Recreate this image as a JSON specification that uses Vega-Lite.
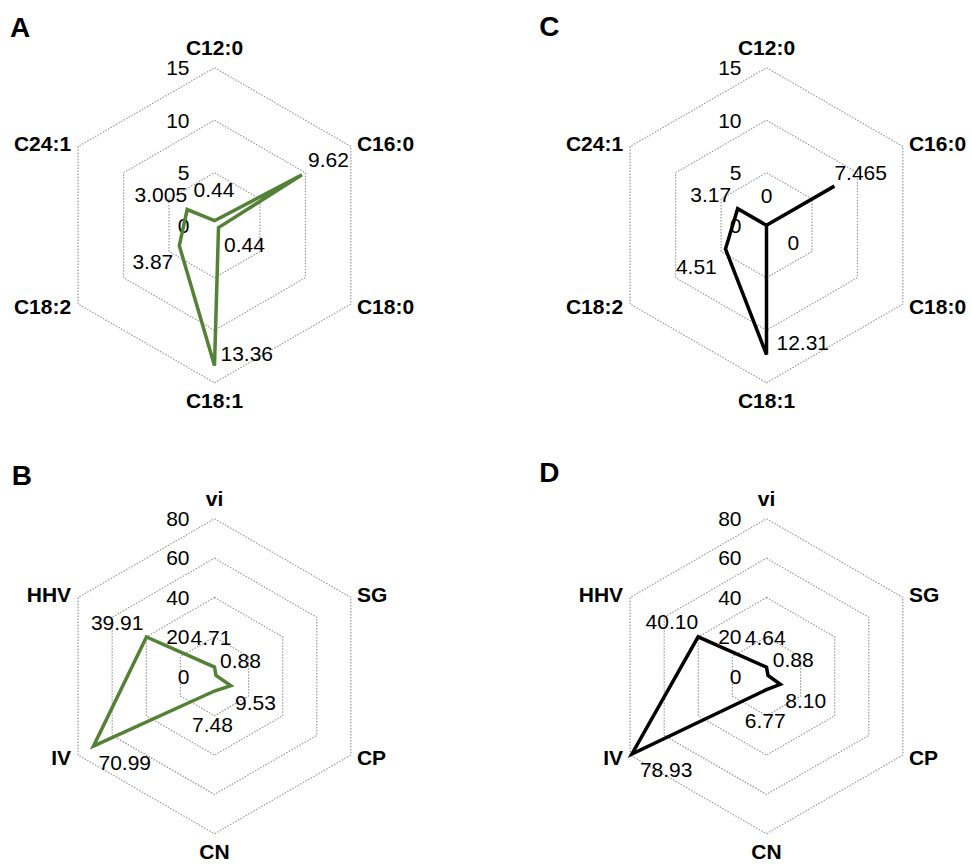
{
"$schema": "https://vega.github.io/schema/vega-lite/v6.json",
"padding": 0,
"background": "white",
"config": {"view": {"stroke": null}, "font": "Liberation Sans", "text": {"font": "Liberation Sans", "fontSize": 21, "color": "#000000"}},
"datasets": {
"fa": [
{"panel":"A","i":0,"cat":"C12:0","v":0.44,"lab":"0.44"},
{"panel":"A","i":1,"cat":"C16:0","v":9.62,"lab":"9.62"},
{"panel":"A","i":2,"cat":"C18:0","v":0.44,"lab":"0.44"},
{"panel":"A","i":3,"cat":"C18:1","v":13.36,"lab":"13.36"},
{"panel":"A","i":4,"cat":"C18:2","v":3.87,"lab":"3.87"},
{"panel":"A","i":5,"cat":"C24:1","v":3.005,"lab":"3.005"},
{"panel":"C","i":0,"cat":"C12:0","v":0,"lab":"0"},
{"panel":"C","i":1,"cat":"C16:0","v":7.465,"lab":"7.465"},
{"panel":"C","i":2,"cat":"C18:0","v":0,"lab":"0"},
{"panel":"C","i":3,"cat":"C18:1","v":12.31,"lab":"12.31"},
{"panel":"C","i":4,"cat":"C18:2","v":4.51,"lab":"4.51"},
{"panel":"C","i":5,"cat":"C24:1","v":3.17,"lab":"3.17"}
],
"fu": [
{"panel":"B","i":0,"cat":"vi","v":4.71,"lab":"4.71"},
{"panel":"B","i":1,"cat":"SG","v":0.88,"lab":"0.88"},
{"panel":"B","i":2,"cat":"CP","v":9.53,"lab":"9.53"},
{"panel":"B","i":3,"cat":"CN","v":7.48,"lab":"7.48"},
{"panel":"B","i":4,"cat":"IV","v":70.99,"lab":"70.99"},
{"panel":"B","i":5,"cat":"HHV","v":39.91,"lab":"39.91"},
{"panel":"D","i":0,"cat":"vi","v":4.64,"lab":"4.64"},
{"panel":"D","i":1,"cat":"SG","v":0.88,"lab":"0.88"},
{"panel":"D","i":2,"cat":"CP","v":8.10,"lab":"8.10"},
{"panel":"D","i":3,"cat":"CN","v":6.77,"lab":"6.77"},
{"panel":"D","i":4,"cat":"IV","v":78.93,"lab":"78.93"},
{"panel":"D","i":5,"cat":"HHV","v":40.10,"lab":"40.10"}
],
"gFA": [
{"lv":5,"i":0},{"lv":5,"i":1},{"lv":5,"i":2},{"lv":5,"i":3},{"lv":5,"i":4},{"lv":5,"i":5},
{"lv":10,"i":0},{"lv":10,"i":1},{"lv":10,"i":2},{"lv":10,"i":3},{"lv":10,"i":4},{"lv":10,"i":5},
{"lv":15,"i":0},{"lv":15,"i":1},{"lv":15,"i":2},{"lv":15,"i":3},{"lv":15,"i":4},{"lv":15,"i":5}
],
"gFU": [
{"lv":20,"i":0},{"lv":20,"i":1},{"lv":20,"i":2},{"lv":20,"i":3},{"lv":20,"i":4},{"lv":20,"i":5},
{"lv":40,"i":0},{"lv":40,"i":1},{"lv":40,"i":2},{"lv":40,"i":3},{"lv":40,"i":4},{"lv":40,"i":5},
{"lv":60,"i":0},{"lv":60,"i":1},{"lv":60,"i":2},{"lv":60,"i":3},{"lv":60,"i":4},{"lv":60,"i":5},
{"lv":80,"i":0},{"lv":80,"i":1},{"lv":80,"i":2},{"lv":80,"i":3},{"lv":80,"i":4},{"lv":80,"i":5}
],
"tFA": [{"t":0},{"t":5},{"t":10},{"t":15}],
"tFU": [{"t":0},{"t":20},{"t":40},{"t":60},{"t":80}]
},
"columns": 2,
"spacing": {"row": 41, "column": 142},
"bounds": "flush",
"concat": [
{
"width": 410, "height": 410,
"encoding": {
"x": {"field":"x","type":"quantitative","scale":{"domain":[-1.3619,1.2413],"nice":false,"zero":false},"axis":null},
"y": {"field":"y","type":"quantitative","scale":{"domain":[-1.1727,1.4305],"nice":false,"zero":false},"axis":null}
},
"layer": [
{"data":{"name":"gFA"},"transform":[{"calculate":"datum.lv/15*sin(datum.i*PI/3)","as":"x"},{"calculate":"datum.lv/15*cos(datum.i*PI/3)","as":"y"}],
"mark":{"type":"line","interpolate":"linear-closed","stroke":"#999999","strokeWidth":1.2,"strokeDash":[1.5,1.5]},
"encoding":{"detail":{"field":"lv"},"order":{"field":"i"}}},
{"data":{"name":"tFA"},"transform":[{"calculate":"0","as":"x"},{"calculate":"datum.t/15","as":"y"}],
"mark":{"type":"text","align":"right","baseline":"middle","dx":-25,"dy":1.2,"fontSize":21},
"encoding":{"text":{"field":"t","type":"nominal"}}},
{"data":{"name":"fa"},"transform":[{"filter":"datum.panel=='A'"},{"calculate":"datum.v/15*sin(datum.i*PI/3)","as":"x"},{"calculate":"datum.v/15*cos(datum.i*PI/3)","as":"y"}],
"layer":[
{"mark":{"type":"line","interpolate":"linear-closed","stroke":"#538135","strokeWidth":3.5},"encoding":{"order":{"field":"i"}}},
{"transform":[{"filter":"datum.i==5"},{"calculate":"sin(datum.i*PI/3)","as":"x"},{"calculate":"cos(datum.i*PI/3)","as":"y"}],"mark":{"type":"text","align":"left","baseline":"alphabetic","dx":-68.1,"dy":-110,"fontSize":28,"fontWeight":"bold"},"encoding":{"text":{"field":"panel"}}},
{"transform":[{"filter":"datum.i==0"},{"calculate":"sin(datum.i*PI/3)","as":"x"},{"calculate":"cos(datum.i*PI/3)","as":"y"}],"mark":{"type":"text","align":"center","baseline":"alphabetic","dy":-13,"fontSize":21,"fontWeight":"bold"},"encoding":{"text":{"field":"cat"}}},
{"transform":[{"filter":"datum.i==1"},{"calculate":"sin(datum.i*PI/3)","as":"x"},{"calculate":"cos(datum.i*PI/3)","as":"y"}],"mark":{"type":"text","align":"left","baseline":"middle","dx":6,"dy":-1.8,"fontSize":21,"fontWeight":"bold"},"encoding":{"text":{"field":"cat"}}},
{"transform":[{"filter":"datum.i==2"},{"calculate":"sin(datum.i*PI/3)","as":"x"},{"calculate":"cos(datum.i*PI/3)","as":"y"}],"mark":{"type":"text","align":"left","baseline":"middle","dx":6,"dy":4,"fontSize":21,"fontWeight":"bold"},"encoding":{"text":{"field":"cat"}}},
{"transform":[{"filter":"datum.i==3"},{"calculate":"sin(datum.i*PI/3)","as":"x"},{"calculate":"cos(datum.i*PI/3)","as":"y"}],"mark":{"type":"text","align":"center","baseline":"alphabetic","dy":25,"fontSize":21,"fontWeight":"bold"},"encoding":{"text":{"field":"cat"}}},
{"transform":[{"filter":"datum.i==4"},{"calculate":"sin(datum.i*PI/3)","as":"x"},{"calculate":"cos(datum.i*PI/3)","as":"y"}],"mark":{"type":"text","align":"right","baseline":"middle","dx":-7,"dy":4,"fontSize":21,"fontWeight":"bold"},"encoding":{"text":{"field":"cat"}}},
{"transform":[{"filter":"datum.i==5"},{"calculate":"sin(datum.i*PI/3)","as":"x"},{"calculate":"cos(datum.i*PI/3)","as":"y"}],"mark":{"type":"text","align":"right","baseline":"middle","dx":-7,"dy":-1.8,"fontSize":21,"fontWeight":"bold"},"encoding":{"text":{"field":"cat"}}},
{"transform":[{"filter":"datum.i==0"}],"mark":{"type":"text","align":"center","baseline":"middle","dx":-0.5,"dy":-29.5,"fontSize":21},"encoding":{"text":{"field":"lab"}}},
{"transform":[{"filter":"datum.i==1"}],"mark":{"type":"text","align":"left","baseline":"middle","dx":6,"dy":-13.4,"fontSize":21},"encoding":{"text":{"field":"lab"}}},
{"transform":[{"filter":"datum.i==2"}],"mark":{"type":"text","align":"left","baseline":"middle","dx":5.5,"dy":18.6,"fontSize":21},"encoding":{"text":{"field":"lab"}}},
{"transform":[{"filter":"datum.i==3"}],"mark":{"type":"text","align":"left","baseline":"middle","dx":6,"dy":-11,"fontSize":21},"encoding":{"text":{"field":"lab"}}},
{"transform":[{"filter":"datum.i==4"}],"mark":{"type":"text","align":"right","baseline":"middle","dx":-6,"dy":17.5,"fontSize":21},"encoding":{"text":{"field":"lab"}}},
{"transform":[{"filter":"datum.i==5"}],"mark":{"type":"text","align":"right","baseline":"middle","dx":0,"dy":-13.3,"fontSize":21},"encoding":{"text":{"field":"lab"}}}
]}
]
},
{
"width": 410, "height": 410,
"encoding": {
"x": {"field":"x","type":"quantitative","scale":{"domain":[-1.3619,1.2413],"nice":false,"zero":false},"axis":null},
"y": {"field":"y","type":"quantitative","scale":{"domain":[-1.1727,1.4305],"nice":false,"zero":false},"axis":null}
},
"layer": [
{"data":{"name":"gFA"},"transform":[{"calculate":"datum.lv/15*sin(datum.i*PI/3)","as":"x"},{"calculate":"datum.lv/15*cos(datum.i*PI/3)","as":"y"}],
"mark":{"type":"line","interpolate":"linear-closed","stroke":"#999999","strokeWidth":1.2,"strokeDash":[1.5,1.5]},
"encoding":{"detail":{"field":"lv"},"order":{"field":"i"}}},
{"data":{"name":"tFA"},"transform":[{"calculate":"0","as":"x"},{"calculate":"datum.t/15","as":"y"}],
"mark":{"type":"text","align":"right","baseline":"middle","dx":-25,"dy":1.2,"fontSize":21},
"encoding":{"text":{"field":"t","type":"nominal"}}},
{"data":{"name":"fa"},"transform":[{"filter":"datum.panel=='C'"},{"calculate":"datum.v/15*sin(datum.i*PI/3)","as":"x"},{"calculate":"datum.v/15*cos(datum.i*PI/3)","as":"y"}],
"layer":[
{"mark":{"type":"line","interpolate":"linear-closed","stroke":"#000000","strokeWidth":3.5},"encoding":{"order":{"field":"i"}}},
{"transform":[{"filter":"datum.i==5"},{"calculate":"sin(datum.i*PI/3)","as":"x"},{"calculate":"cos(datum.i*PI/3)","as":"y"}],"mark":{"type":"text","align":"left","baseline":"alphabetic","dx":-90.8,"dy":-111,"fontSize":28,"fontWeight":"bold"},"encoding":{"text":{"field":"panel"}}},
{"transform":[{"filter":"datum.i==0"},{"calculate":"sin(datum.i*PI/3)","as":"x"},{"calculate":"cos(datum.i*PI/3)","as":"y"}],"mark":{"type":"text","align":"center","baseline":"alphabetic","dy":-13,"fontSize":21,"fontWeight":"bold"},"encoding":{"text":{"field":"cat"}}},
{"transform":[{"filter":"datum.i==1"},{"calculate":"sin(datum.i*PI/3)","as":"x"},{"calculate":"cos(datum.i*PI/3)","as":"y"}],"mark":{"type":"text","align":"left","baseline":"middle","dx":6,"dy":-1.8,"fontSize":21,"fontWeight":"bold"},"encoding":{"text":{"field":"cat"}}},
{"transform":[{"filter":"datum.i==2"},{"calculate":"sin(datum.i*PI/3)","as":"x"},{"calculate":"cos(datum.i*PI/3)","as":"y"}],"mark":{"type":"text","align":"left","baseline":"middle","dx":6,"dy":4,"fontSize":21,"fontWeight":"bold"},"encoding":{"text":{"field":"cat"}}},
{"transform":[{"filter":"datum.i==3"},{"calculate":"sin(datum.i*PI/3)","as":"x"},{"calculate":"cos(datum.i*PI/3)","as":"y"}],"mark":{"type":"text","align":"center","baseline":"alphabetic","dy":25,"fontSize":21,"fontWeight":"bold"},"encoding":{"text":{"field":"cat"}}},
{"transform":[{"filter":"datum.i==4"},{"calculate":"sin(datum.i*PI/3)","as":"x"},{"calculate":"cos(datum.i*PI/3)","as":"y"}],"mark":{"type":"text","align":"right","baseline":"middle","dx":-7,"dy":4,"fontSize":21,"fontWeight":"bold"},"encoding":{"text":{"field":"cat"}}},
{"transform":[{"filter":"datum.i==5"},{"calculate":"sin(datum.i*PI/3)","as":"x"},{"calculate":"cos(datum.i*PI/3)","as":"y"}],"mark":{"type":"text","align":"right","baseline":"middle","dx":-7,"dy":-1.8,"fontSize":21,"fontWeight":"bold"},"encoding":{"text":{"field":"cat"}}},
{"transform":[{"filter":"datum.i==0"}],"mark":{"type":"text","align":"center","baseline":"middle","dx":0,"dy":-28.3,"fontSize":21},"encoding":{"text":{"field":"lab"}}},
{"transform":[{"filter":"datum.i==1"}],"mark":{"type":"text","align":"left","baseline":"middle","dx":0,"dy":-12.3,"fontSize":21},"encoding":{"text":{"field":"lab"}}},
{"transform":[{"filter":"datum.i==2"}],"mark":{"type":"text","align":"left","baseline":"middle","dx":21,"dy":18.7,"fontSize":21},"encoding":{"text":{"field":"lab"}}},
{"transform":[{"filter":"datum.i==3"}],"mark":{"type":"text","align":"left","baseline":"middle","dx":10,"dy":-10.5,"fontSize":21},"encoding":{"text":{"field":"lab"}}},
{"transform":[{"filter":"datum.i==4"}],"mark":{"type":"text","align":"right","baseline":"middle","dx":-8.7,"dy":18.8,"fontSize":21},"encoding":{"text":{"field":"lab"}}},
{"transform":[{"filter":"datum.i==5"}],"mark":{"type":"text","align":"right","baseline":"middle","dx":-6.6,"dy":-12.4,"fontSize":21},"encoding":{"text":{"field":"lab"}}}
]}
]
},
{
"width": 410, "height": 410,
"encoding": {
"x": {"field":"x","type":"quantitative","scale":{"domain":[-1.3619,1.2413],"nice":false,"zero":false},"axis":null},
"y": {"field":"y","type":"quantitative","scale":{"domain":[-1.1727,1.4305],"nice":false,"zero":false},"axis":null}
},
"layer": [
{"data":{"name":"gFU"},"transform":[{"calculate":"datum.lv/80*sin(datum.i*PI/3)","as":"x"},{"calculate":"datum.lv/80*cos(datum.i*PI/3)","as":"y"}],
"mark":{"type":"line","interpolate":"linear-closed","stroke":"#999999","strokeWidth":1.2,"strokeDash":[1.5,1.5]},
"encoding":{"detail":{"field":"lv"},"order":{"field":"i"}}},
{"data":{"name":"tFU"},"transform":[{"calculate":"0","as":"x"},{"calculate":"datum.t/80","as":"y"}],
"mark":{"type":"text","align":"right","baseline":"middle","dx":-25,"dy":1.2,"fontSize":21},
"encoding":{"text":{"field":"t","type":"nominal"}}},
{"data":{"name":"fu"},"transform":[{"filter":"datum.panel=='B'"},{"calculate":"datum.v/80*sin(datum.i*PI/3)","as":"x"},{"calculate":"datum.v/80*cos(datum.i*PI/3)","as":"y"}],
"layer":[
{"mark":{"type":"line","interpolate":"linear-closed","stroke":"#538135","strokeWidth":3.5},"encoding":{"order":{"field":"i"}}},
{"transform":[{"filter":"datum.i==5"},{"calculate":"sin(datum.i*PI/3)","as":"x"},{"calculate":"cos(datum.i*PI/3)","as":"y"}],"mark":{"type":"text","align":"left","baseline":"alphabetic","dx":-66.4,"dy":-112.5,"fontSize":28,"fontWeight":"bold"},"encoding":{"text":{"field":"panel"}}},
{"transform":[{"filter":"datum.i==0"},{"calculate":"sin(datum.i*PI/3)","as":"x"},{"calculate":"cos(datum.i*PI/3)","as":"y"}],"mark":{"type":"text","align":"center","baseline":"alphabetic","dy":-13,"fontSize":21,"fontWeight":"bold"},"encoding":{"text":{"field":"cat"}}},
{"transform":[{"filter":"datum.i==1"},{"calculate":"sin(datum.i*PI/3)","as":"x"},{"calculate":"cos(datum.i*PI/3)","as":"y"}],"mark":{"type":"text","align":"left","baseline":"middle","dx":6,"dy":-1.8,"fontSize":21,"fontWeight":"bold"},"encoding":{"text":{"field":"cat"}}},
{"transform":[{"filter":"datum.i==2"},{"calculate":"sin(datum.i*PI/3)","as":"x"},{"calculate":"cos(datum.i*PI/3)","as":"y"}],"mark":{"type":"text","align":"left","baseline":"middle","dx":6,"dy":4,"fontSize":21,"fontWeight":"bold"},"encoding":{"text":{"field":"cat"}}},
{"transform":[{"filter":"datum.i==3"},{"calculate":"sin(datum.i*PI/3)","as":"x"},{"calculate":"cos(datum.i*PI/3)","as":"y"}],"mark":{"type":"text","align":"center","baseline":"alphabetic","dy":25,"fontSize":21,"fontWeight":"bold"},"encoding":{"text":{"field":"cat"}}},
{"transform":[{"filter":"datum.i==4"},{"calculate":"sin(datum.i*PI/3)","as":"x"},{"calculate":"cos(datum.i*PI/3)","as":"y"}],"mark":{"type":"text","align":"right","baseline":"middle","dx":-7,"dy":4,"fontSize":21,"fontWeight":"bold"},"encoding":{"text":{"field":"cat"}}},
{"transform":[{"filter":"datum.i==5"},{"calculate":"sin(datum.i*PI/3)","as":"x"},{"calculate":"cos(datum.i*PI/3)","as":"y"}],"mark":{"type":"text","align":"right","baseline":"middle","dx":-7,"dy":-1.8,"fontSize":21,"fontWeight":"bold"},"encoding":{"text":{"field":"cat"}}},
{"transform":[{"filter":"datum.i==0"}],"mark":{"type":"text","align":"center","baseline":"middle","dx":-3.5,"dy":-28.2,"fontSize":21},"encoding":{"text":{"field":"lab"}}},
{"transform":[{"filter":"datum.i==1"}],"mark":{"type":"text","align":"left","baseline":"middle","dx":4,"dy":-13.3,"fontSize":21},"encoding":{"text":{"field":"lab"}}},
{"transform":[{"filter":"datum.i==2"}],"mark":{"type":"text","align":"left","baseline":"middle","dx":4.3,"dy":18.2,"fontSize":21},"encoding":{"text":{"field":"lab"}}},
{"transform":[{"filter":"datum.i==3"}],"mark":{"type":"text","align":"center","baseline":"middle","dx":-2,"dy":34.5,"fontSize":21},"encoding":{"text":{"field":"lab"}}},
{"transform":[{"filter":"datum.i==4"}],"mark":{"type":"text","align":"left","baseline":"middle","dx":5,"dy":17.6,"fontSize":21},"encoding":{"text":{"field":"lab"}}},
{"transform":[{"filter":"datum.i==5"}],"mark":{"type":"text","align":"right","baseline":"middle","dx":-3,"dy":-13.2,"fontSize":21},"encoding":{"text":{"field":"lab"}}}
]}
]
},
{
"width": 410, "height": 410,
"encoding": {
"x": {"field":"x","type":"quantitative","scale":{"domain":[-1.3619,1.2413],"nice":false,"zero":false},"axis":null},
"y": {"field":"y","type":"quantitative","scale":{"domain":[-1.1727,1.4305],"nice":false,"zero":false},"axis":null}
},
"layer": [
{"data":{"name":"gFU"},"transform":[{"calculate":"datum.lv/80*sin(datum.i*PI/3)","as":"x"},{"calculate":"datum.lv/80*cos(datum.i*PI/3)","as":"y"}],
"mark":{"type":"line","interpolate":"linear-closed","stroke":"#999999","strokeWidth":1.2,"strokeDash":[1.5,1.5]},
"encoding":{"detail":{"field":"lv"},"order":{"field":"i"}}},
{"data":{"name":"tFU"},"transform":[{"calculate":"0","as":"x"},{"calculate":"datum.t/80","as":"y"}],
"mark":{"type":"text","align":"right","baseline":"middle","dx":-25,"dy":1.2,"fontSize":21},
"encoding":{"text":{"field":"t","type":"nominal"}}},
{"data":{"name":"fu"},"transform":[{"filter":"datum.panel=='D'"},{"calculate":"datum.v/80*sin(datum.i*PI/3)","as":"x"},{"calculate":"datum.v/80*cos(datum.i*PI/3)","as":"y"}],
"layer":[
{"mark":{"type":"line","interpolate":"linear-closed","stroke":"#000000","strokeWidth":3.5},"encoding":{"order":{"field":"i"}}},
{"transform":[{"filter":"datum.i==5"},{"calculate":"sin(datum.i*PI/3)","as":"x"},{"calculate":"cos(datum.i*PI/3)","as":"y"}],"mark":{"type":"text","align":"left","baseline":"alphabetic","dx":-90.8,"dy":-115.5,"fontSize":28,"fontWeight":"bold"},"encoding":{"text":{"field":"panel"}}},
{"transform":[{"filter":"datum.i==0"},{"calculate":"sin(datum.i*PI/3)","as":"x"},{"calculate":"cos(datum.i*PI/3)","as":"y"}],"mark":{"type":"text","align":"center","baseline":"alphabetic","dy":-13,"fontSize":21,"fontWeight":"bold"},"encoding":{"text":{"field":"cat"}}},
{"transform":[{"filter":"datum.i==1"},{"calculate":"sin(datum.i*PI/3)","as":"x"},{"calculate":"cos(datum.i*PI/3)","as":"y"}],"mark":{"type":"text","align":"left","baseline":"middle","dx":6,"dy":-1.8,"fontSize":21,"fontWeight":"bold"},"encoding":{"text":{"field":"cat"}}},
{"transform":[{"filter":"datum.i==2"},{"calculate":"sin(datum.i*PI/3)","as":"x"},{"calculate":"cos(datum.i*PI/3)","as":"y"}],"mark":{"type":"text","align":"left","baseline":"middle","dx":6,"dy":4,"fontSize":21,"fontWeight":"bold"},"encoding":{"text":{"field":"cat"}}},
{"transform":[{"filter":"datum.i==3"},{"calculate":"sin(datum.i*PI/3)","as":"x"},{"calculate":"cos(datum.i*PI/3)","as":"y"}],"mark":{"type":"text","align":"center","baseline":"alphabetic","dy":25,"fontSize":21,"fontWeight":"bold"},"encoding":{"text":{"field":"cat"}}},
{"transform":[{"filter":"datum.i==4"},{"calculate":"sin(datum.i*PI/3)","as":"x"},{"calculate":"cos(datum.i*PI/3)","as":"y"}],"mark":{"type":"text","align":"right","baseline":"middle","dx":-7,"dy":4,"fontSize":21,"fontWeight":"bold"},"encoding":{"text":{"field":"cat"}}},
{"transform":[{"filter":"datum.i==5"},{"calculate":"sin(datum.i*PI/3)","as":"x"},{"calculate":"cos(datum.i*PI/3)","as":"y"}],"mark":{"type":"text","align":"right","baseline":"middle","dx":-7,"dy":-1.8,"fontSize":21,"fontWeight":"bold"},"encoding":{"text":{"field":"cat"}}},
{"transform":[{"filter":"datum.i==0"}],"mark":{"type":"text","align":"center","baseline":"middle","dx":-1.3,"dy":-28.3,"fontSize":21},"encoding":{"text":{"field":"lab"}}},
{"transform":[{"filter":"datum.i==1"}],"mark":{"type":"text","align":"left","baseline":"middle","dx":4.7,"dy":-14.1,"fontSize":21},"encoding":{"text":{"field":"lab"}}},
{"transform":[{"filter":"datum.i==2"}],"mark":{"type":"text","align":"left","baseline":"middle","dx":5,"dy":17.8,"fontSize":21},"encoding":{"text":{"field":"lab"}}},
{"transform":[{"filter":"datum.i==3"}],"mark":{"type":"text","align":"center","baseline":"middle","dx":-1.3,"dy":32.5,"fontSize":21},"encoding":{"text":{"field":"lab"}}},
{"transform":[{"filter":"datum.i==4"}],"mark":{"type":"text","align":"left","baseline":"middle","dx":8,"dy":16.8,"fontSize":21},"encoding":{"text":{"field":"lab"}}},
{"transform":[{"filter":"datum.i==5"}],"mark":{"type":"text","align":"right","baseline":"middle","dx":0,"dy":-13.8,"fontSize":21},"encoding":{"text":{"field":"lab"}}}
]}
]
}
]
}
